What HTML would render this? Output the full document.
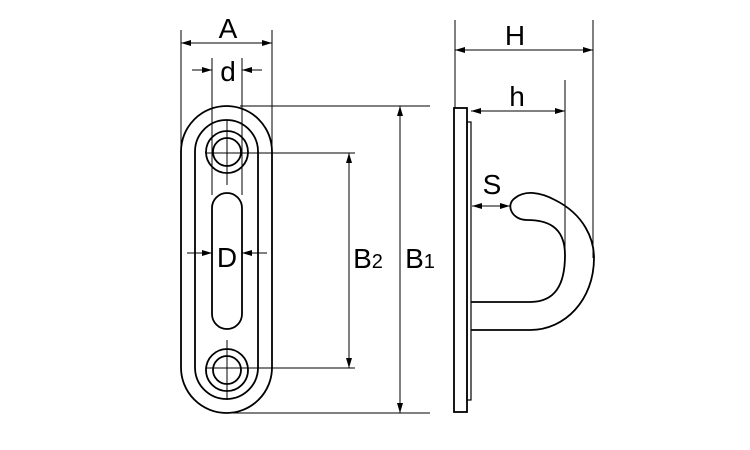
<!DOCTYPE html>
<html><head><style>body{margin:0;background:#fff}svg{display:block}</style></head><body>
<svg width="750" height="450" xmlns="http://www.w3.org/2000/svg" font-family="Liberation Sans, sans-serif">
<defs><marker id="a" viewBox="0 0 10 6" refX="10" refY="3" markerWidth="10" markerHeight="6" orient="auto-start-reverse" markerUnits="userSpaceOnUse"><path d="M0,0L10,3L0,6z" fill="#000"/></marker></defs>
<g fill="none" stroke="#000" stroke-width="1.8">
<rect x="181" y="106" width="91" height="307" rx="45.5"/>
<rect x="195" y="120" width="63" height="279" rx="31.5"/>
<circle cx="227" cy="152" r="21"/><circle cx="227" cy="152" r="14"/>
<circle cx="227" cy="370" r="21"/><circle cx="227" cy="370" r="14"/>
<rect x="212" y="193" width="30" height="136" rx="15"/>
<rect x="454" y="108" width="13" height="304"/>
<rect x="467" y="122" width="4" height="278" stroke-width="1.2"/>
<path d="M471,302 H530 C555,302 565,285 565,255 C565,225 545,220 527,220 C512,220 505,205 515,198 C525,190 540,192 555,200 C585,215 594,240 594,258 C594,300 565,330 530,330 H471"/>
</g>
<g stroke="#000" stroke-width="1" fill="none">
<line x1="181" y1="30" x2="181" y2="150"/><line x1="272" y1="30" x2="272" y2="150"/>
<line x1="212" y1="58" x2="212" y2="195"/><line x1="242" y1="58" x2="242" y2="195"/>
<line x1="227" y1="120" x2="227" y2="185"/><line x1="227" y1="340" x2="227" y2="400"/>
<line x1="240" y1="106" x2="430" y2="106"/><line x1="227" y1="413" x2="430" y2="413"/>
<line x1="205" y1="153" x2="355" y2="153"/><line x1="205" y1="368" x2="355" y2="368"/>
<line x1="455" y1="20" x2="455" y2="108"/><line x1="593" y1="20" x2="593" y2="258"/>
<line x1="565" y1="80" x2="565" y2="255"/>
<line x1="181" y1="43" x2="272" y2="43" marker-start="url(#a)" marker-end="url(#a)"/>
<line x1="192" y1="70" x2="212" y2="70" marker-end="url(#a)"/><line x1="262" y1="70" x2="242" y2="70" marker-end="url(#a)"/>
<line x1="187" y1="253" x2="212" y2="253" marker-end="url(#a)"/><line x1="267" y1="253" x2="242" y2="253" marker-end="url(#a)"/>
<line x1="349" y1="153" x2="349" y2="368" marker-start="url(#a)" marker-end="url(#a)"/>
<line x1="400" y1="106" x2="400" y2="413" marker-start="url(#a)" marker-end="url(#a)"/>
<line x1="455" y1="50" x2="593" y2="50" marker-start="url(#a)" marker-end="url(#a)"/>
<line x1="471" y1="111" x2="565" y2="111" marker-start="url(#a)" marker-end="url(#a)"/>
<line x1="472" y1="206" x2="510" y2="206" marker-start="url(#a)" marker-end="url(#a)"/>
</g>
<g font-size="28" text-anchor="middle" fill="#000">
<text x="228" y="38">A</text><text x="228" y="81">d</text><text x="227" y="267">D</text>
<text x="368" y="268">B<tspan font-size="20">2</tspan></text>
<text x="420" y="268">B<tspan font-size="20">1</tspan></text>
<text x="515" y="45">H</text><text x="517" y="106">h</text><text x="492" y="194">S</text>
</g>
</svg></body></html>
